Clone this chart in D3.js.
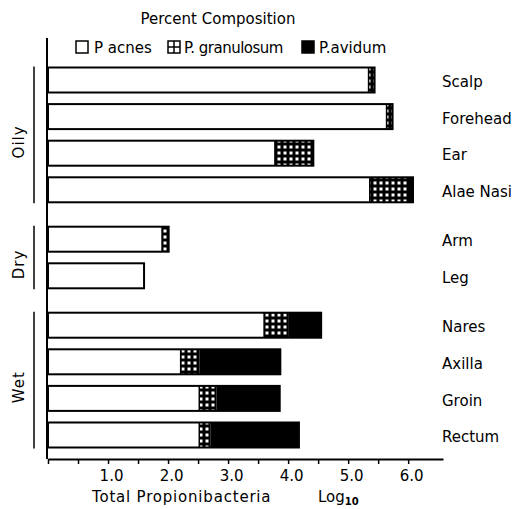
<!DOCTYPE html>
<html>
<head>
  <style>
    body {
      margin: 0;
      background: #fff;
    }

    svg text {
      font-family: "DejaVu Sans", sans-serif;
      fill: #000;
    }
  </style>
</head>

<body>
  <svg id="chart" width="516" height="509"></svg>

  <script src="https://d3js.org/d3.v7.min.js"></script>
  <script>
    // sites, top to bottom
    const sites = ["Scalp", "Forehead", "Ear", "Alae Nasi", "Arm", "Leg", "Nares", "Axilla", "Groin", "Rectum"];
    const siteGroups = ["Oily", "Oily", "Oily", "Oily", "Dry", "Dry", "Wet", "Wet", "Wet", "Wet"];
    const groupNames = ["Oily", "Dry", "Wet"];

    // segment lengths in log10 units
    const acnes = [5.34, 5.64, 3.78, 5.36, 1.90, 1.60, 3.60, 2.21, 2.52, 2.52];
    const granulosum = [0.10, 0.10, 0.64, 0.62, 0.11, 0, 0.40, 0.31, 0.29, 0.19];
    const avidum = [0, 0, 0, 0.10, 0, 0, 0.55, 1.35, 1.05, 1.47];

    const tickValues = [0, 0.5, 1, 1.5, 2, 2.5, 3, 3.5, 4, 4.5, 5, 5.5, 6];
    const tickLabels = ["1.0", "2.0", "3.0", "4.0", "5.0", "6.0"];

    const species = [
      { key: "acnes", label: "P acnes", values: acnes },
      { key: "granulosum", label: "P. granulosum", values: granulosum },
      { key: "avidum", label: "P.avidum", values: avidum }
    ];

    const svg = d3.select("#chart");

    // grid hatch for P. granulosum
    const defs = svg.append("defs");
    const pat = defs.append("pattern")
      .attr("id", "grid")
      .attr("patternUnits", "userSpaceOnUse")
      .attr("width", 6)
      .attr("height", 6);
    pat.append("rect").attr("width", 6).attr("height", 6).attr("fill", "#000");
    pat.append("rect").attr("x", 1.5).attr("y", 1.5).attr("width", 3).attr("height", 3).attr("fill", "#fff");

    const fills = { acnes: "#fff", granulosum: "url(#grid)", avidum: "#000" };

    // scales
    const x = d3.scaleLinear().domain([0, 6.58]).range([48, 443]);

    // row index with a small gap between groups
    const gap = 0.35;
    const rowPos = sites.map((s, i) => i + groupNames.indexOf(siteGroups[i]) * gap);
    const y = d3.scaleLinear().domain([0, d3.max(rowPos)]).range([80, 435]);
    const barH = 25;

    // stacked rows
    const rows = sites.map((s, i) => {
      let x0 = 0;
      const segs = species.map(sp => {
        const seg = { key: sp.key, x0: x0, x1: x0 + sp.values[i] };
        x0 = seg.x1;
        return seg;
      }).filter(d => d.x1 > d.x0);
      return { site: s, pos: rowPos[i], total: x0, segs: segs };
    });

    const bars = svg.append("g").attr("class", "bars");

    const row = bars.selectAll("g.row")
      .data(rows)
      .join("g")
      .attr("class", "row");

    row.selectAll("rect.seg")
      .data(d => d.segs.map(s => Object.assign({ pos: d.pos }, s)))
      .join("rect")
      .attr("class", "seg")
      .attr("x", d => x(d.x0))
      .attr("y", d => y(d.pos) - barH / 2)
      .attr("width", d => x(d.x1) - x(d.x0))
      .attr("height", barH)
      .attr("fill", d => fills[d.key])
      .attr("stroke", "none");

    // outline of each bar
    row.append("rect")
      .attr("x", x(0))
      .attr("y", d => y(d.pos) - barH / 2)
      .attr("width", d => x(d.total) - x(0))
      .attr("height", barH)
      .attr("fill", "none")
      .attr("stroke", "#000")
      .attr("stroke-width", 2);

    // divider between acnes and the rest
    row.filter(d => d.segs.length > 1)
      .append("line")
      .attr("x1", d => x(d.segs[0].x1))
      .attr("x2", d => x(d.segs[0].x1))
      .attr("y1", d => y(d.pos) - barH / 2)
      .attr("y2", d => y(d.pos) + barH / 2)
      .attr("stroke", "#000")
      .attr("stroke-width", 1.5);

    // site labels on the right
    row.append("text")
      .attr("x", 442)
      .attr("y", d => y(d.pos) + 2)
      .attr("dy", "0.35em")
      .attr("font-size", 15)
      .text(d => d.site);

    // y axis line
    svg.append("line")
      .attr("x1", 47).attr("x2", 47)
      .attr("y1", 38).attr("y2", 459)
      .attr("stroke", "#000")
      .attr("stroke-width", 2);

    // x axis
    const xAxis = svg.append("g")
      .attr("transform", "translate(0,459)")
      .call(d3.axisBottom(x)
        .tickValues(tickValues)
        .tickSize(5)
        .tickSizeOuter(0)
        .tickFormat(d => Number.isInteger(d) && d > 0 ? tickLabels[d - 1] : ""));
    xAxis.select(".domain").attr("stroke-width", 2);
    xAxis.selectAll(".tick line").attr("stroke-width", 1.5);
    xAxis.selectAll(".tick text")
      .attr("font-family", "DejaVu Sans, sans-serif")
      .attr("font-size", 15)
      .attr("dx", 3)
      .attr("dy", "0.95em");

    svg.append("text")
      .attr("x", 92)
      .attr("y", 502)
      .attr("font-size", 15)
      .attr("letter-spacing", 0.8)
      .text("Total Propionibacteria");

    const logLabel = svg.append("text")
      .attr("x", 318)
      .attr("y", 502)
      .attr("font-size", 15);
    logLabel.append("tspan").text("Log");
    logLabel.append("tspan").attr("font-size", 10).attr("dy", 3).attr("font-weight", "bold").text("10");

    // group brackets
    groupNames.forEach(g => {
      const idx = sites.map((s, i) => i).filter(i => siteGroups[i] === g);
      const top = y(rowPos[idx[0]]) - barH / 2 - 1;
      const bot = y(rowPos[idx[idx.length - 1]]) + barH / 2 + 1;
      svg.append("line")
        .attr("x1", 34).attr("x2", 34)
        .attr("y1", top).attr("y2", bot)
        .attr("stroke", "#000")
        .attr("stroke-width", 1.5);
      const cy = (top + bot) / 2 + 7;
      svg.append("text")
        .attr("transform", `translate(24,${cy}) rotate(-90)`)
        .attr("text-anchor", "middle")
        .attr("font-size", 15)
        .attr("letter-spacing", 1)
        .text(g);
    });

    // title and legend
    svg.append("text")
      .attr("x", 218)
      .attr("y", 24)
      .attr("text-anchor", "middle")
      .attr("font-size", 15)
      .text("Percent Composition");

    const legend = svg.append("g").attr("class", "legend");
    const legendX = [76, 168, 302];
    const legendTextX = [94, 184, 319];

    species.forEach((sp, i) => {
      legend.append("rect")
        .attr("x", legendX[i])
        .attr("y", 41)
        .attr("width", 12)
        .attr("height", 12)
        .attr("fill", sp.key === "avidum" ? "#000" : "#fff")
        .attr("stroke", "#000")
        .attr("stroke-width", 1.5);
      if (sp.key === "granulosum") {
        legend.append("line")
          .attr("x1", legendX[i] + 6).attr("x2", legendX[i] + 6)
          .attr("y1", 41).attr("y2", 53)
          .attr("stroke", "#000").attr("stroke-width", 1.5);
        legend.append("line")
          .attr("x1", legendX[i]).attr("x2", legendX[i] + 12)
          .attr("y1", 47).attr("y2", 47)
          .attr("stroke", "#000").attr("stroke-width", 1.5);
      }
      legend.append("text")
        .attr("x", legendTextX[i])
        .attr("y", 53)
        .attr("font-size", 15)
        .attr("letter-spacing", sp.key === "granulosum" ? -0.5 : 0)
        .text(sp.label);
    });
  </script>
</body>

</html>
